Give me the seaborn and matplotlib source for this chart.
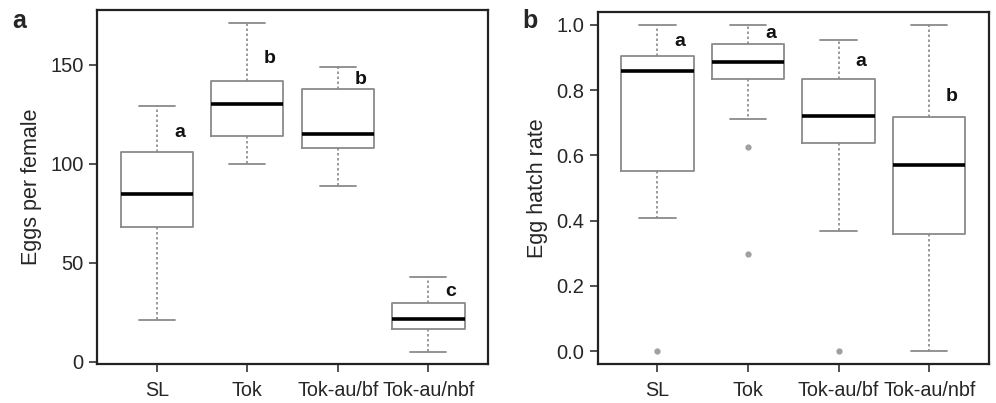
import matplotlib
matplotlib.use("Agg")
import matplotlib.pyplot as plt
import seaborn as sns

groups = ["SL", "Tok", "Tok-au/bf", "Tok-au/nbf"]

# panel a: eggs per female (box stats)
eggs_low = [21, 100, 89, 5.2]
eggs_q1 = [68, 114, 108, 16.4]
eggs_med = [85, 130, 115, 21.8]
eggs_q3 = [106, 142, 138, 29.8]
eggs_high = [129, 171, 149, 42.8]
eggs_fliers = [[], [], [], []]
eggs_letters = ["a", "b", "b", "c"]
eggs_letter_y = [115.6, 153, 142.7, 35.7]

# panel b: egg hatch rate
hatch_low = [0.409, 0.712, 0.368, 0.0]
hatch_q1 = [0.553, 0.833, 0.639, 0.360]
hatch_med = [0.859, 0.887, 0.720, 0.570]
hatch_q3 = [0.904, 0.940, 0.834, 0.718]
hatch_high = [1.0, 1.0, 0.952, 1.0]
hatch_fliers = [[0.0], [0.626, 0.299], [0.0], []]
hatch_letters = ["a", "a", "a", "b"]
hatch_letter_y = [0.950, 0.972, 0.886, 0.779]

sns.set_style("ticks")
plt.rcParams["font.family"] = ["Liberation Sans", "DejaVu Sans"]

fig = plt.figure(figsize=(9.96, 4.03), dpi=100)
ax_a = fig.add_axes([0.0974, 0.0968, 0.3926, 0.878])
ax_b = fig.add_axes([0.600, 0.096, 0.393, 0.875])

gray = "#8a8a8a"


def draw_panel(ax, low, q1, med, q3, high, fliers, letters, letter_y, ylim, yticks, ylabel, tickfmt):
    stats = []
    for i, g in enumerate(groups):
        stats.append(dict(label=g, whislo=low[i], q1=q1[i], med=med[i], q3=q3[i],
                          whishi=high[i], fliers=fliers[i]))
    ax.bxp(stats, positions=[1, 2, 3, 4], widths=0.8, showfliers=True,
           boxprops=dict(color=gray, linewidth=1.3),
           medianprops=dict(color="black", linewidth=2.6, solid_capstyle="butt"),
           whiskerprops=dict(color=gray, linewidth=1.2, linestyle=(0, (1.5, 1.5))),
           capprops=dict(color=gray, linewidth=1.3),
           capwidths=0.4,
           flierprops=dict(marker="o", markersize=3.5, markerfacecolor="#a0a0a0",
                           markeredgecolor="#a0a0a0"))
    for i, t in enumerate(letters):
        ax.text(i + 1 + 0.25, letter_y[i], t, ha="center", va="center",
                fontsize=14, fontweight="bold", color="#111111")
    ax.set_xlim(0.34, 4.66)
    ax.set_ylim(*ylim)
    ax.set_yticks(yticks)
    ax.set_yticklabels([tickfmt(v) for v in yticks])
    ax.set_xticks([1, 2, 3, 4])
    ax.set_xticklabels(groups)
    ax.set_ylabel(ylabel, fontsize=15.5, labelpad=6)
    ax.tick_params(axis="both", length=6, width=1.2, color="#333333", direction="out")
    ax.tick_params(axis="y", labelsize=14.5)
    ax.tick_params(axis="x", labelsize=14.2, pad=6)
    for s in ax.spines.values():
        s.set_linewidth(1.6)
        s.set_color("#222222")


draw_panel(ax_a, eggs_low, eggs_q1, eggs_med, eggs_q3, eggs_high, eggs_fliers,
           eggs_letters, eggs_letter_y, (-1.1, 177.6), [0, 50, 100, 150],
           "Eggs per female", lambda v: f"{v:g}")
draw_panel(ax_b, hatch_low, hatch_q1, hatch_med, hatch_q3, hatch_high, hatch_fliers,
           hatch_letters, hatch_letter_y, (-0.04, 1.04), [0.0, 0.2, 0.4, 0.6, 0.8, 1.0],
           "Egg hatch rate", lambda v: f"{v:.1f}")

fig.text(0.012, 0.948, "a", fontsize=18, fontweight="bold", va="center")
fig.text(0.524, 0.948, "b", fontsize=18, fontweight="bold", va="center")

fig.savefig("out.png", dpi=100)
